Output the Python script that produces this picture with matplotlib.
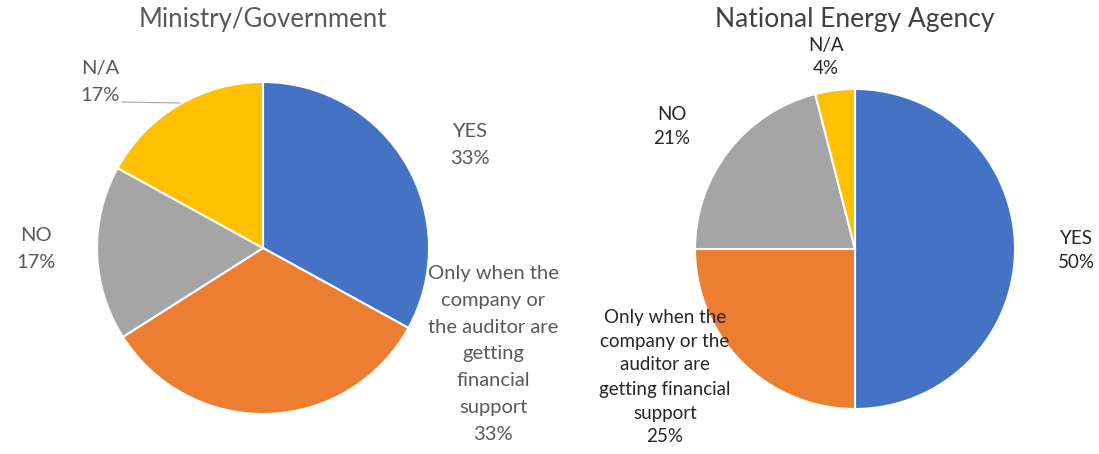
import matplotlib
matplotlib.use("Agg")
import matplotlib.pyplot as plt

# -------------------------
# data
# -------------------------
categories = ["YES",
              "Only when the company or the auditor are getting financial support",
              "NO", "N/A"]
ministry_pct = [33, 33, 17, 17]
agency_pct = [50, 25, 21, 4]

COLORS = ['#4472C4', '#ED7D31', '#A5A5A5', '#FFC000']

plt.rcParams['font.family'] = ['Lato', 'DejaVu Sans']

W, H = 1099, 454
fig = plt.figure(figsize=(W / 100, H / 100), dpi=100)
ax = fig.add_axes([0, 0, 1, 1])


# y axis is inverted below, so counter-clockwise here shows up clockwise
def pie_at(values, cx, cy, r):
    wedges, _ = ax.pie(values, colors=COLORS, startangle=-90, counterclock=True,
                       center=(cx, cy), radius=r, frame=True,
                       wedgeprops=dict(edgecolor='white', linewidth=1.5))
    return wedges


pie_at(ministry_pct, 263, 248, 166)
pie_at(agency_pct, 855, 249, 160)
ax.set_xlim(0, W)
ax.set_ylim(H, 0)
ax.set_aspect('equal')
ax.axis('off')

# -------------------------
# titles
# -------------------------
ax.text(263, 20, "Ministry/Government", ha='center', va='center',
        fontsize=18.5, color='#595959')
ax.text(855, 20, "National Energy Agency", ha='center', va='center',
        fontsize=19, color='#404040')

# -------------------------
# labels, left pie
# -------------------------
grey = '#595959'
lab = dict(ha='center', va='center', fontsize=14.5, linespacing=1.7)
ax.text(470, 145, f"YES\n{ministry_pct[0]}%", color=grey, **lab)
ax.text(493, 354, "Only when the\ncompany or\nthe auditor are\ngetting\nfinancial\nsupport\n"
        f"{ministry_pct[1]}%", color=grey, **lab)
ax.text(36, 249, f"NO\n{ministry_pct[2]}%", color=grey, **lab)
ax.text(100, 82, f"N/A\n{ministry_pct[3]}%", color=grey, **lab)
ax.plot([122, 180], [102, 103], color='#A6A6A6', linewidth=0.8)

# -------------------------
# labels, right pie
# -------------------------
dark = '#262626'
lab2 = dict(ha='center', va='center', fontsize=13.5, linespacing=1.5)
ax.text(1076, 250, f"YES\n{agency_pct[0]}%", color=dark, **lab2)
ax.text(665, 377, "Only when the\ncompany or the\nauditor are\ngetting financial\nsupport\n"
        f"{agency_pct[1]}%", color=dark, **lab2)
ax.text(672, 126, f"NO\n{agency_pct[2]}%", color=dark, **lab2)
ax.text(826, 57, f"N/A\n{agency_pct[3]}%", color=dark, **lab2)

fig.savefig("out.png", dpi=100, facecolor='white')
